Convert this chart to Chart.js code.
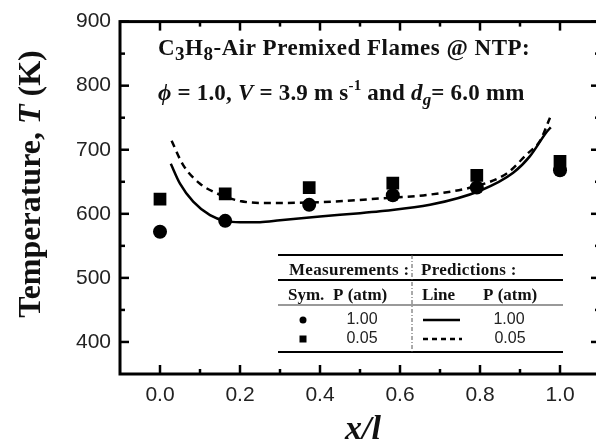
<!DOCTYPE html>
<html>
<head>
<meta charset="utf-8">
<script src="https://cdn.jsdelivr.net/npm/chart.js@4/dist/chart.umd.min.js"></script>
<style>
  html, body { margin: 0; padding: 0; background: #ffffff; overflow: hidden; }
  #wrap { position: absolute; left: 0; top: 0; width: 620px; height: 443px; }
</style>
</head>
<body>
<div id="wrap"><canvas id="c" width="620" height="443"></canvas></div>
<script>
// ---- data ----
const xTicks = [0.0, 0.2, 0.4, 0.6, 0.8, 1.0];
const xMinor = [0.1, 0.3, 0.5, 0.7, 0.9];
const yTicks = [400, 500, 600, 700, 800, 900];
const yMinor = [450, 550, 650, 750, 850];

const measX = [0.0, 0.163, 0.373, 0.582, 0.792, 1.0];
const meas1atm = [572, 589, 614, 629, 641, 668];      // circles, P = 1.00 atm
const meas005atm = [623, 631, 641, 648, 660, 682];    // squares, P = 0.05 atm

const pred1X = [0.027, 0.05, 0.083, 0.125, 0.163, 0.2, 0.25, 0.3, 0.4, 0.5, 0.55, 0.675, 0.8, 0.883, 0.925, 0.967, 0.977];
const pred1T = [678, 647, 619, 598, 589, 587, 587, 590, 596, 601, 604, 614, 636, 664, 690, 728, 735];
const pred005X = [0.029, 0.058, 0.1, 0.142, 0.2, 0.258, 0.3, 0.43, 0.55, 0.675, 0.8, 0.867, 0.917, 0.95, 0.975];
const pred005T = [714, 676, 647, 632, 620, 617, 617, 619, 624, 630, 645, 663, 693, 714, 750];

const pts = (xs, ys) => xs.map((x, i) => ({ x: x, y: ys[i] }));

const SERIF = '"Liberation Serif", "Times New Roman", serif';
const SANS = '"Liberation Sans", Arial, sans-serif';

function drawRich(ctx, x, y, segs, spacing) {
  ctx.save();
  ctx.textBaseline = 'alphabetic';
  ctx.textAlign = 'left';
  if (spacing !== undefined) ctx.letterSpacing = spacing;
  let cx = x;
  for (const s of segs) {
    ctx.font = (s.style || 'bold') + ' ' + s.size + 'px ' + SERIF;
    ctx.fillText(s.t, cx, y + (s.dy || 0));
    cx += ctx.measureText(s.t).width;
  }
  ctx.restore();
  return cx - x;
}
function richWidth(ctx, segs) {
  let w = 0;
  for (const s of segs) {
    ctx.font = (s.style || 'bold') + ' ' + s.size + 'px ' + SERIF;
    w += ctx.measureText(s.t).width;
  }
  return w;
}

const decor = {
  id: 'decor',
  afterDraw(chart) {
    const ctx = chart.ctx;
    const a = chart.chartArea;
    const xs = chart.scales.x, ys = chart.scales.y;
    ctx.save();
    ctx.strokeStyle = '#000';
    ctx.fillStyle = '#111';
    // frame
    ctx.lineWidth = 3;
    ctx.strokeRect(a.left, a.top, a.right - a.left, a.bottom - a.top);
    // inward ticks
    ctx.lineWidth = 2.5;
    const tick = (x1, y1, x2, y2) => { ctx.beginPath(); ctx.moveTo(x1, y1); ctx.lineTo(x2, y2); ctx.stroke(); };
    xTicks.forEach(v => { const p = xs.getPixelForValue(v); tick(p, a.bottom, p, a.bottom - 9); tick(p, a.top, p, a.top + 9); });
    xMinor.forEach(v => { const p = xs.getPixelForValue(v); tick(p, a.bottom, p, a.bottom - 5); tick(p, a.top, p, a.top + 5); });
    yTicks.forEach(v => { const p = ys.getPixelForValue(v); tick(a.left, p, a.left + 9, p); tick(a.right, p, a.right - 9, p); });
    yMinor.forEach(v => { const p = ys.getPixelForValue(v); tick(a.left, p, a.left + 5, p); tick(a.right, p, a.right - 5, p); });

    // axis titles
    ctx.fillStyle = '#111';
    const ySegs = [{ t: 'Temperature, ', size: 32 }, { t: 'T', size: 32, style: 'italic bold' }, { t: ' (K)', size: 32 }];
    ctx.save();
    ctx.translate(40, 184);
    ctx.rotate(-Math.PI / 2);
    const yw = richWidth(ctx, ySegs);
    drawRich(ctx, -yw / 2, 0, ySegs);
    ctx.restore();

    const xSegs = [{ t: 'x/l', size: 34, style: 'italic bold' }];
    const xw = richWidth(ctx, xSegs);
    drawRich(ctx, 363 - xw / 2, 439, xSegs);

    // annotation
    drawRich(ctx, 158, 55, [
      { t: 'C', size: 23 }, { t: '3', size: 19, dy: 5 }, { t: 'H', size: 23 }, { t: '8', size: 19, dy: 5 },
      { t: '-Air Premixed Flames @ NTP:', size: 23 }
    ], '0.5px');
    drawRich(ctx, 158, 100, [
      { t: '\u03D5', size: 23, style: 'italic bold' }, { t: ' = 1.0, ', size: 23 },
      { t: 'V', size: 23, style: 'italic bold' }, { t: ' = 3.9 m s', size: 23 },
      { t: '-1', size: 15, dy: -10 }, { t: ' and ', size: 23 },
      { t: 'd', size: 23, style: 'italic bold' }, { t: 'g', size: 17, style: 'italic bold', dy: 5 },
      { t: '= 6.0 mm', size: 23 }
    ], '0.2px');

    // legend table
    ctx.strokeStyle = '#000';
    ctx.lineWidth = 2;
    tick(278, 255, 563, 255);
    tick(278, 280, 563, 280);
    tick(278, 352, 563, 352);
    ctx.strokeStyle = '#777';
    ctx.lineWidth = 1.5;
    tick(278, 305, 563, 305);
    ctx.save();
    ctx.strokeStyle = '#555';
    ctx.lineWidth = 1;
    ctx.setLineDash([4, 2, 1, 2]);
    tick(412, 255, 412, 352);
    ctx.restore();

    drawRich(ctx, 289, 275, [{ t: 'Measurements :', size: 17 }], '0.3px');
    drawRich(ctx, 421, 275, [{ t: 'Predictions :', size: 17 }], '0.3px');
    drawRich(ctx, 288, 300, [{ t: 'Sym.', size: 17 }]);
    drawRich(ctx, 333, 300, [{ t: 'P (atm)', size: 17 }]);
    drawRich(ctx, 422, 300, [{ t: 'Line', size: 17 }]);
    drawRich(ctx, 483, 300, [{ t: 'P (atm)', size: 17 }]);

    ctx.fillStyle = '#000';
    ctx.beginPath(); ctx.arc(303, 320, 3.5, 0, Math.PI * 2); ctx.fill();
    ctx.fillRect(299.5, 335.5, 7, 7);
    ctx.strokeStyle = '#000';
    ctx.lineWidth = 2.5;
    tick(423, 320, 460, 320);
    ctx.save(); ctx.setLineDash([5, 4]); tick(423, 339, 462, 339); ctx.restore();

    ctx.fillStyle = '#222';
    ctx.font = '16px ' + SANS;
    ctx.textAlign = 'center';
    ctx.textBaseline = 'middle';
    ctx.fillText('1.00', 362, 320);
    ctx.fillText('0.05', 362, 339);
    ctx.fillText('1.00', 509, 320);
    ctx.fillText('0.05', 510, 339);
    ctx.restore();
  }
};

new Chart(document.getElementById('c'), {
  type: 'scatter',
  data: {
    datasets: [
      { label: 'Prediction 1.00 atm', data: pts(pred1X, pred1T), showLine: true, borderColor: '#000', borderWidth: 2.5,
        pointRadius: 0, cubicInterpolationMode: 'monotone', fill: false },
      { label: 'Prediction 0.05 atm', data: pts(pred005X, pred005T), showLine: true, borderColor: '#000', borderWidth: 2.5,
        borderDash: [7, 5], pointRadius: 0, cubicInterpolationMode: 'monotone', fill: false },
      { label: 'Measured 0.05 atm', data: pts(measX, meas005atm), pointStyle: 'rect', pointRadius: 9,
        backgroundColor: '#000', borderColor: '#000', borderWidth: 0 },
      { label: 'Measured 1.00 atm', data: pts(measX, meas1atm), pointStyle: 'circle', pointRadius: 7,
        backgroundColor: '#000', borderColor: '#000', borderWidth: 0 }
    ]
  },
  options: {
    responsive: false,
    animation: false,
    layout: { padding: { left: 0, top: 16, right: 20, bottom: 0 } },
    plugins: { legend: { display: false }, tooltip: { enabled: false } },
    scales: {
      x: {
        type: 'linear', min: -0.1, max: 1.1,
        afterBuildTicks: s => { s.ticks = xTicks.map(v => ({ value: v })); },
        afterFit: s => { s.height = 69; },
        grid: { display: false, drawTicks: false, tickLength: 0 },
        border: { display: false },
        ticks: { autoSkip: false, maxRotation: 0, padding: 9, color: '#222',
          font: { family: SANS, size: 21 }, callback: v => Number(v).toFixed(1) }
      },
      y: {
        type: 'linear', min: 350, max: 900,
        afterBuildTicks: s => { s.ticks = yTicks.map(v => ({ value: v })); },
        afterFit: s => { s.width = 120; },
        grid: { display: false, drawTicks: false, tickLength: 0 },
        border: { display: false },
        ticks: { autoSkip: false, padding: 9, color: '#222',
          font: { family: SANS, size: 21 }, callback: v => String(v) }
      }
    }
  },
  plugins: [decor]
});
</script>
</body>
</html>
